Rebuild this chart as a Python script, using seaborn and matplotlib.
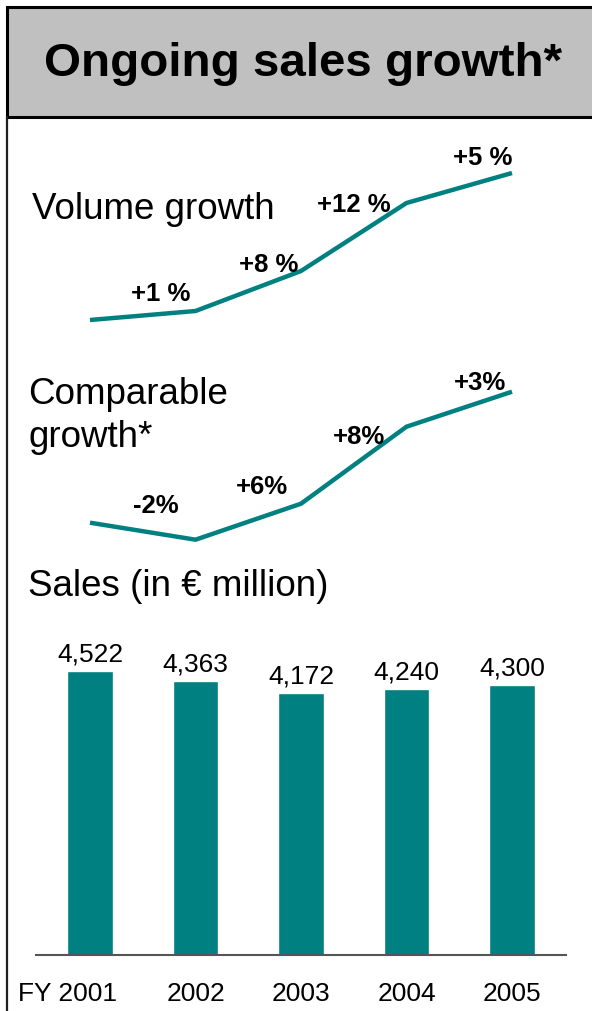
import matplotlib
matplotlib.use("Agg")
import matplotlib.pyplot as plt
import matplotlib.transforms as mtransforms
from matplotlib.patches import Rectangle
from matplotlib.lines import Line2D
import seaborn as sns

# ---- data -------------------------------------------------------------
years = ["FY 2001", "2002", "2003", "2004", "2005"]
sales = [4522, 4363, 4172, 4240, 4300]          # € million

volume_labels = ["+1 %", "+8 %", "+12 %", "+5 %"]
volume_level = [0, 9, 49, 117, 147]              # schematic trend level

comparable_labels = ["-2%", "+6%", "+8%", "+3%"]
comparable_level = [0, -17, 19, 96, 131]         # schematic trend level

# ---- layout (label anchors in x-index / level units) -------------------
VOL_LABEL_POS = [(0.673, 19.1), (1.697, 47.8), (2.50, 108.1), (3.725, 154.8)]
CMP_LABEL_POS = [(0.626, 9.5), (1.63, 28.5), (2.55, 78.5), (3.70, 132.8)]

TEAL = "#008080"
W, H = 592, 1011
X_LIM = (-0.512, 4.512)

sns.set_theme(style="white")
plt.rcParams["font.family"] = ["Liberation Sans", "DejaVu Sans"]
plt.rcParams["text.color"] = "black"
plt.rcParams["xtick.color"] = "black"

fig = plt.figure(figsize=(W / 100, H / 100), dpi=100)
fig.patch.set_facecolor("white")


def fx(px):
    return px / W


def fy(py):
    return 1 - py / H


def px_axes(left, top, right, bottom):
    ax = fig.add_axes([left / W, 1 - bottom / H, (right - left) / W, (bottom - top) / H])
    ax.patch.set_visible(False)
    return ax


# ---- title banner and frame ---------------------------------------------
fig.add_artist(Rectangle((fx(6.5), fy(117)), (700 - 6.5) / W, (117 - 7) / H,
                         transform=fig.transFigure, facecolor="#C0C0C0",
                         edgecolor="black", linewidth=2.2))
fig.add_artist(Line2D([fx(6.5), fx(6.5)], [fy(117), fy(1015)],
                      transform=fig.transFigure, color="#202020", linewidth=1.6))
fig.text(fx(303.5), fy(76), "Ongoing sales growth*", ha="center", va="baseline",
         fontsize=34.2, fontweight="bold")

# ---- volume growth line ---------------------------------------------------
ax1 = px_axes(36, 130, 566, 340)
sns.lineplot(x=list(range(len(volume_level))), y=volume_level, ax=ax1,
             color=TEAL, linewidth=3.2, solid_capstyle="butt")
ax1.set_xlim(X_LIM)
ax1.set_ylim(-20, 190)
ax1.axis("off")
for lab, (xp, yp) in zip(volume_labels, VOL_LABEL_POS):
    ax1.text(xp, yp, lab, ha="center", va="baseline", fontsize=18.5, fontweight="bold")
fig.text(fx(32), fy(219), "Volume growth", ha="left", va="baseline", fontsize=26.5)

# ---- comparable growth line -----------------------------------------------
ax2 = px_axes(36, 355, 566, 560)
sns.lineplot(x=list(range(len(comparable_level))), y=comparable_level, ax=ax2,
             color=TEAL, linewidth=3.2, solid_capstyle="butt")
ax2.set_xlim(X_LIM)
ax2.set_ylim(-37.3, 167.7)
ax2.axis("off")
for lab, (xp, yp) in zip(comparable_labels, CMP_LABEL_POS):
    ax2.text(xp, yp, lab, ha="center", va="baseline", fontsize=18.5, fontweight="bold")
fig.text(fx(28), fy(404), "Comparable", ha="left", va="baseline", fontsize=26.5)
fig.text(fx(28), fy(447), "growth*", ha="left", va="baseline", fontsize=26.5)

# ---- sales bars -------------------------------------------------------------
fig.text(fx(28), fy(596), "Sales (in € million)", ha="left", va="baseline", fontsize=26.5)

ax3 = px_axes(36, 615, 566, 955)
sns.barplot(x=years, y=sales, order=years, ax=ax3, color=TEAL, saturation=1,
            width=0.43)
ax3.set_xlim(X_LIM)
ax3.set_ylim(0, 5413)
ax3.set_xlabel("")
ax3.set_ylabel("")
ax3.set_yticks([])
for side in ("left", "right", "top"):
    ax3.spines[side].set_visible(False)
ax3.spines["bottom"].set_color("#555555")
ax3.spines["bottom"].set_linewidth(1.5)
ax3.tick_params(axis="x", length=0, pad=19.2, labelsize=19)
ax3.bar_label(ax3.containers[0], labels=[f"{v:,}" for v in sales],
              padding=3.2, fontsize=19)

first = ax3.xaxis.get_major_ticks()[0].label1
first.set_transform(first.get_transform()
                    + mtransforms.ScaledTranslation(-22.5 / 100, 0, fig.dpi_scale_trans))

fig.savefig("out.png", dpi=100)
